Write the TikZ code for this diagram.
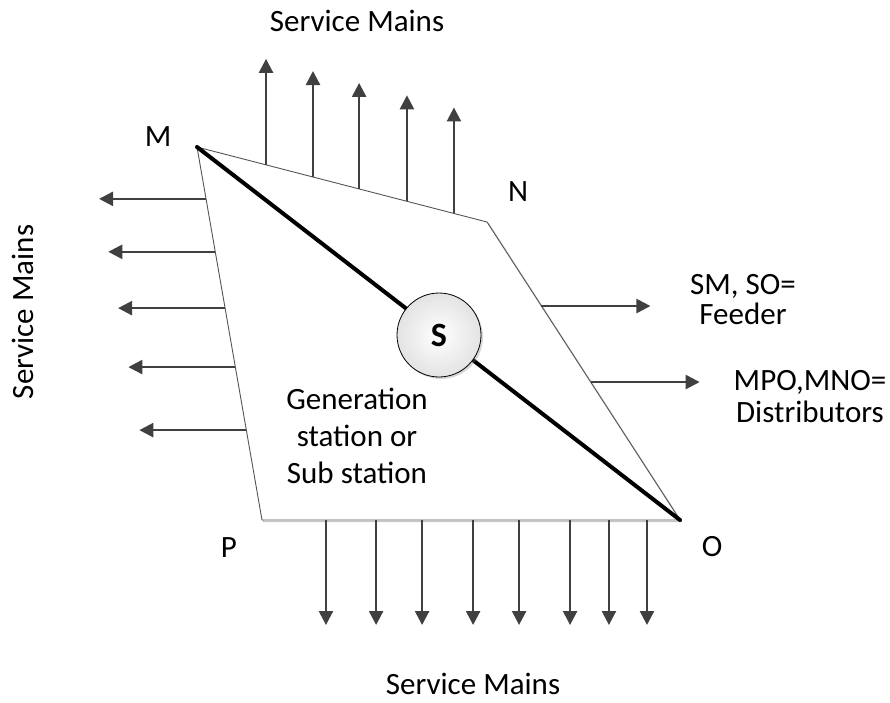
\documentclass[tikz,border=0pt]{standalone}
\usepackage{fontspec}
\setmainfont{Carlito}
\usetikzlibrary{calc,arrows.meta,shadows}
\definecolor{arr}{HTML}{404040}
\definecolor{edge}{HTML}{555555}
\tikzset{
  feed/.style={draw=arr,line width=2.4pt,-{Triangle[length=14pt,width=14pt]}},
  lbl/.style={font=\fontsize{31}{37}\selectfont,inner sep=0pt,align=center},
}
\begin{document}
\begin{tikzpicture}[x=1pt,y=-1pt]
\useasboundingbox (0,0) rectangle (890,702);
\coordinate (M) at (197,147);
\coordinate (N) at (487,222);
\coordinate (O) at (680,520);
\coordinate (P) at (262,520);
% shadow and body
\draw[gray!45,line width=1pt] ([shift={(1.5,1.5)}]M) -- ([shift={(1.5,1.5)}]N) -- ([shift={(1.5,1.5)}]O) -- ([shift={(1.5,1.5)}]P) -- cycle;
\draw[edge,line width=0.9pt,fill=white] (M) -- (N) -- (O) -- (P) -- cycle;
% top arrows
\foreach \t [count=\i] in {0.238,0.4,0.559,0.724,0.886}{
  \coordinate (t\i) at ($(M)!\t!(N)$);
  \draw[feed] (t\i) -- ++(0,-106);
}
% left arrows
\foreach \t [count=\i] in {0.139,0.281,0.432,0.590,0.759}{
  \coordinate (l\i) at ($(M)!\t!(P)$);
  \draw[feed] (l\i) -- ++(-107,0);
}
% bottom arrows
\foreach \t [count=\i] in {0.153,0.273,0.383,0.505,0.615,0.737,0.830,0.921}{
  \coordinate (b\i) at ($(P)!\t!(O)$);
  \draw[feed] (b\i) -- ++(0,105);
}
% right arrows
\coordinate (r1) at ($(N)!0.282!(O)$);
\coordinate (r2) at ($(N)!0.537!(O)$);
\draw[feed] (r1) -- ++(109,0);
\draw[feed] (r2) -- ++(109,0);
% diagonal
\draw[black,line width=4pt,line cap=round] (M) -- (O);
% S circle
\node[circle,draw=black,line width=0.8pt,minimum size=84pt,inner sep=0pt,
  inner color=white,outer color=gray!22,
  drop shadow={shadow xshift=2pt,shadow yshift=-2pt,opacity=0.3},
  font=\fontsize{34}{34}\selectfont\bfseries] (S) at (439,335) {S};
% labels
\node[lbl] (top) at (357,21) {Service Mains};
\node[lbl,rotate=90] (left) at (23,312) {Service Mains};
\node[lbl] (bot) at (473,684) {Service Mains};
\node[lbl] (lM) at (158,137) {M};
\node[lbl] (lN) at (518,192) {N};
\node[lbl] (lP) at (229,548) {P};
\node[lbl] (lO) at (712,547) {O};
\node[lbl,font=\fontsize{31}{30}\selectfont] (feeder) at (743,300) {SM, SO=\\Feeder};
\node[lbl,font=\fontsize{31}{32}\selectfont] (dist) at (810,397) {MPO,MNO=\\Distributors};
\node[lbl] (gen) at (357,436) {Generation\\station or\\Sub station};
\end{tikzpicture}
\end{document}
